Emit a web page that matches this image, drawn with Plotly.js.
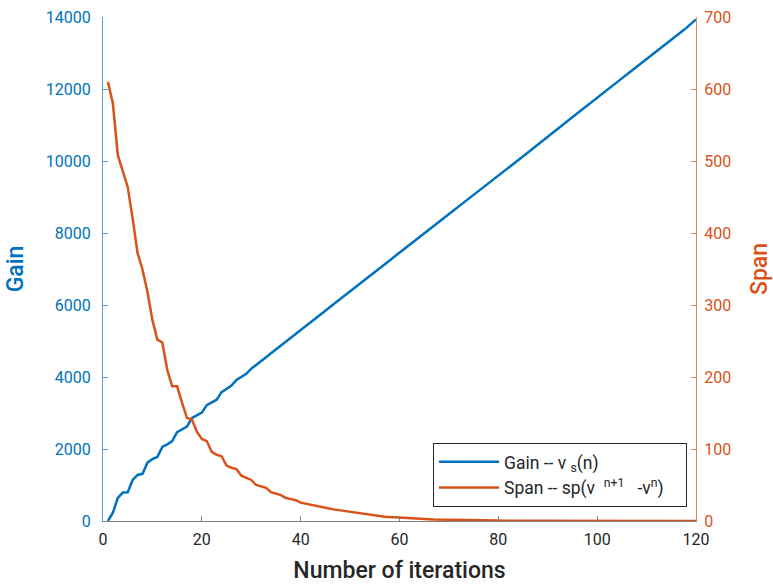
<!DOCTYPE html>
<html>
<head>
<meta charset="utf-8">
<script src="https://cdn.plot.ly/plotly-3.0.1.min.js"></script>
<style>html,body{margin:0;padding:0;background:#fff;}#chart{width:773px;height:588px;}</style>
</head>
<body>
<div id="chart"></div>
<script>
const iterations = [
  1,2,3,4,5,6,7,8,9,10,11,12,13,14,15,16,17,18,19,20,
  21,22,23,24,25,26,27,28,29,30,31,32,33,34,35,36,37,38,39,40,
  41,42,43,44,45,46,47,48,49,50,51,52,53,54,55,56,57,58,59,60,
  61,62,63,64,65,66,67,68,69,70,71,72,73,74,75,76,77,78,79,80,
  81,82,83,84,85,86,87,88,89,90,91,92,93,94,95,96,97,98,99,100,
  101,102,103,104,105,106,107,108,109,110,111,112,113,114,115,116,117,118,119,120
];
const gain = [
  0,230,640,790,800,1140,1280,1310,1620,1720,1780,2060,2130,2220,2470,2540,2620,2860,2940,3010,
  3220,3290,3370,3580,3680,3760,3920,4010,4090,4230,4330,4445,4550,4660,4765,4875,4980,5090,5195,5305,
  5410,5520,5625,5735,5840,5950,6055,6165,6270,6380,6485,6590,6700,6805,6915,7020,7130,7235,7345,7450,
  7560,7665,7775,7880,7990,8095,8200,8310,8415,8525,8630,8740,8845,8955,9060,9165,9275,9380,9490,9595,
  9700,9810,9915,10025,10130,10235,10345,10450,10560,10665,10780,10890,11000,11110,11220,11330,11440,11545,11650,11755,
  11865,11970,12080,12185,12295,12400,12510,12615,12725,12830,12940,13045,13155,13260,13370,13475,13585,13690,13800,13935
];
const span = [
  610,580,508,486,464,420,372,349,318,279,252,248,210,187,187,164,143,141,124,114,
  111,96,92,90,77,74,72,63,60,57,50,48,46,40,38,36,32,30.5,29,25.5,
  24,23,20.5,19.5,18.3,17,15.8,14.8,13.2,12,11,10,9,8.2,7.4,6.6,6,5.4,4.9,4.4,
  4.0,3.6,3.2,2.9,2.6,2.4,2.1,1.9,1.7,1.55,1.4,1.25,1.1,1.0,0.9,0.82,0.74,0.66,0.6,0.54,
  0.49,0.44,0.4,0.36,0.32,0.29,0.26,0.24,0.21,0.19,0.17,0.155,0.14,0.125,0.11,0.1,0.09,0.082,0.074,0.066,
  0.06,0.054,0.049,0.044,0.04,0.036,0.032,0.029,0.026,0.024,0.021,0.019,0.017,0.016,0.014,0.013,0.011,0.01,0.009,0.008
];
const gainTicks = [0,2000,4000,6000,8000,10000,12000,14000];
const spanTicks = [0,100,200,300,400,500,600,700];
const iterTicks = [0,20,40,60,80,100,120];

const BLUE = '#0072BD', ORANGE = '#D95319', DARK = '#262626';
const FONT = 'Roboto, "Liberation Sans", sans-serif';
const NB = '\u00a0';

const traces = [
  {x: iterations, y: gain, type: 'scatter', mode: 'lines',
   name: 'Gain -- v' + NB + '<sub>s</sub>(n)',
   line: {color: BLUE, width: 2.5}, yaxis: 'y'},
  {x: iterations, y: span, type: 'scatter', mode: 'lines',
   name: 'Span -- sp(v' + NB + NB + '<sup>n+1</sup>' + NB + NB + NB + '-v<sup>n</sup>)' + NB + NB + NB + NB,
   line: {color: ORANGE, width: 2.5}, yaxis: 'y2'}
];

const layout = {
  width: 773, height: 588,
  margin: {l: 103, r: 77, t: 17, b: 67},
  paper_bgcolor: '#fff', plot_bgcolor: '#fff',
  font: {family: FONT, color: DARK, size: 16},
  showlegend: true,
  legend: {x: 0.5565, y: 0.155, xanchor: 'left', yanchor: 'top',
    bgcolor: '#fff', bordercolor: DARK, borderwidth: 1, itemwidth: 60,
    font: {family: FONT, size: 17.5, color: DARK}},
  xaxis: {range: [0, 120], tickvals: iterTicks, ticktext: iterTicks.map(String),
    showline: true, linecolor: '#808080', linewidth: 1, mirror: false,
    ticks: 'inside', ticklen: 5, tickcolor: '#808080', showgrid: false, zeroline: false,
    tickfont: {family: FONT, size: 16, color: DARK}, ticklabelstandoff: 4,
    title: {text: 'Number of iterations', font: {family: FONT, size: 23, color: DARK, weight: 500}, standoff: 13},
    automargin: false},
  yaxis: {range: [0, 14000], tickvals: gainTicks, ticktext: gainTicks.map(String),
    showline: true, linecolor: '#5a9fd4', linewidth: 1,
    ticks: 'inside', ticklen: 5, tickcolor: '#5a9fd4', showgrid: false, zeroline: false,
    tickfont: {family: FONT, size: 16, color: BLUE}, ticklabelstandoff: 8,
    title: {text: 'Gain', font: {family: FONT, size: 23, color: BLUE, weight: 500}, standoff: 15},
    automargin: false},
  yaxis2: {range: [0, 700], tickvals: spanTicks, ticktext: spanTicks.map(String),
    overlaying: 'y', side: 'right',
    showline: true, linecolor: '#e5875f', linewidth: 1,
    ticks: 'inside', ticklen: 5, tickcolor: '#e5875f', showgrid: false, zeroline: false,
    tickfont: {family: FONT, size: 16, color: ORANGE}, ticklabelstandoff: 4,
    title: {text: 'Span', font: {family: FONT, size: 23, color: ORANGE, weight: 500}, standoff: 22},
    automargin: false}
};

Plotly.newPlot('chart', traces, layout, {displayModeBar: false, staticPlot: true});
</script>
</body>
</html>
